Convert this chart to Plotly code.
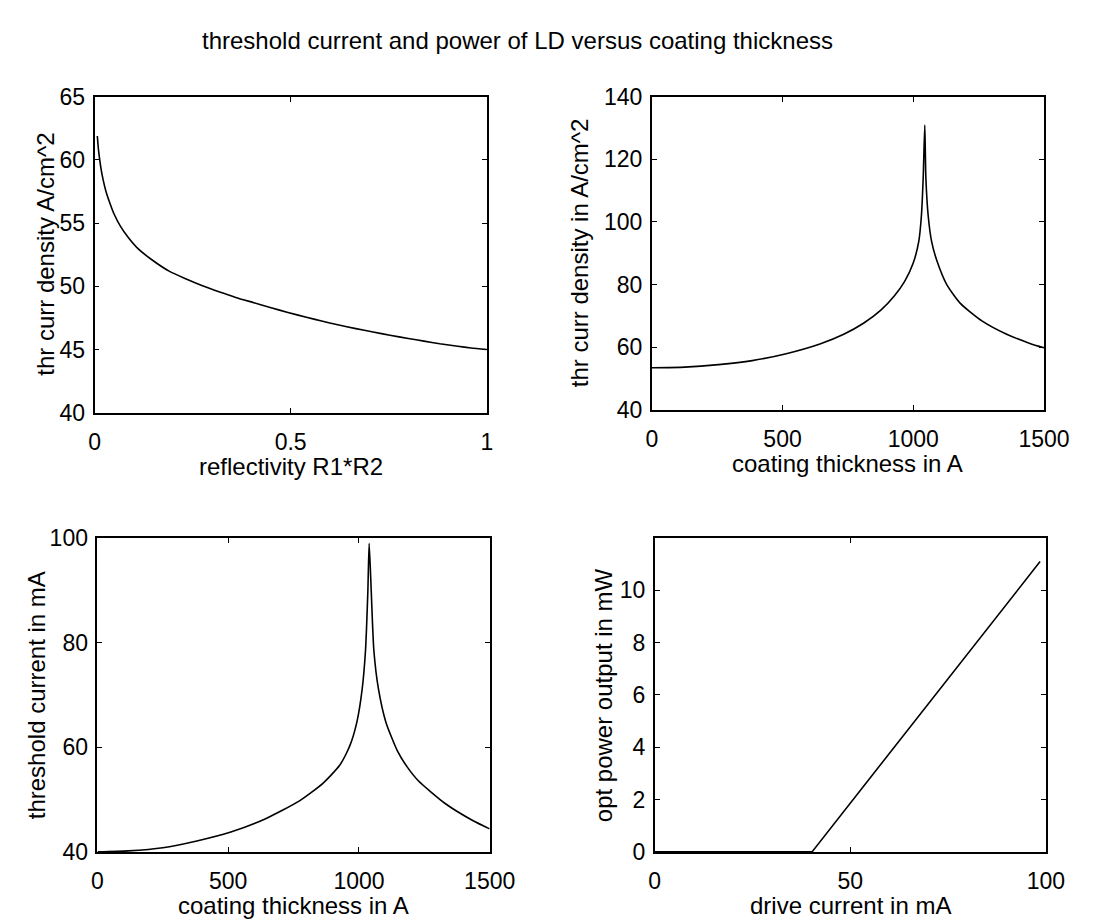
import plotly.graph_objects as go

# ---- data ----
# top-left: threshold current density vs reflectivity
refl_x = [0.007, 0.01, 0.015, 0.02, 0.03, 0.04, 0.05, 0.065, 0.085, 0.11, 0.146,
          0.19, 0.232, 0.275, 0.319, 0.36, 0.406, 0.45, 0.493, 0.54, 0.579,
          0.62, 0.666, 0.71, 0.753, 0.8, 0.84, 0.88, 0.926, 0.96, 1.0]
refl_y = [61.9, 60.8, 59.6, 58.7, 57.4, 56.5, 55.7, 54.8, 53.9, 53.0, 52.1,
          51.2, 50.6, 50.05, 49.55, 49.12, 48.7, 48.3, 47.93, 47.55, 47.25,
          46.95, 46.65, 46.38, 46.13, 45.87, 45.66, 45.45, 45.25, 45.12, 45.0]

# top-right: threshold current density vs coating thickness
ct_x = [0, 126, 255, 384, 514, 643, 734, 811, 876, 928, 967, 999, 1021, 1031,
        1038, 1044, 1048, 1057, 1070, 1090, 1128, 1180, 1264, 1355, 1446, 1500]
ct_y = [53.4, 53.6, 54.4, 55.7, 57.9, 61.0, 64.1, 67.7, 71.8, 76.4, 81.0, 86.7,
        93.8, 102.0, 114.4, 131.0, 114.4, 102.0, 93.8, 87.7, 80.0, 74.0, 68.3,
        64.2, 61.2, 59.8]

# bottom-left: threshold current vs coating thickness
tc_x = [0, 117, 250, 380, 510, 641, 771, 862, 927, 966, 992, 1012, 1025, 1034,
        1039, 1047, 1057, 1075, 1103, 1148, 1185, 1227, 1331, 1435, 1500]
tc_y = [40.0, 40.2, 40.8, 42.1, 43.8, 46.3, 49.7, 53.1, 56.6, 60.4, 64.8, 71.0,
        78.5, 89.8, 99.0, 89.8, 78.5, 71.0, 64.8, 59.2, 56.2, 53.6, 49.2, 46.0,
        44.4]

# bottom-right: optical power vs drive current
drive_x = [0, 40.2, 98.5]
power_y = [0, 0, 11.1]

title_text = "threshold current and power of LD versus coating thickness"
xlabels = ["reflectivity R1*R2", "coating thickness in A",
           "coating thickness in A", "drive current in mA"]
ylabels = ["thr curr density A/cm^2", "thr curr density in A/cm^2",
           "threshold current in mA", "opt power output in mW"]

W, H = 1096, 922
FONT = "Liberation Sans, Arial, Helvetica, sans-serif"

# pixel boxes (left, right, top, bottom)
boxes = [(83, 487, 78, 403), (657, 1061, 78, 400),
         (86, 490, 532, 855), (660, 1063, 532, 855)]
ylabel_x = [33, 582, 24, 608]

fig = go.Figure()
series = [(refl_x, refl_y), (ct_x, ct_y), (tc_x, tc_y), (drive_x, power_y)]
ranges = [([0, 1], [40, 65]), ([0, 1500], [40, 140]),
          ([0, 1500], [40, 100]), ([0, 100], [0, 12])]
xticks = [[0, 0.5, 1], [0, 500, 1000, 1500], [0, 500, 1000, 1500], [0, 50, 100]]
yticks = [[40, 45, 50, 55, 60, 65], [40, 60, 80, 100, 120, 140],
          [40, 60, 80, 100], [0, 2, 4, 6, 8, 10]]

layout = dict(
    width=W, height=H, margin=dict(l=0, r=0, t=0, b=0),
    paper_bgcolor="white", plot_bgcolor="white", showlegend=False,
    font=dict(family=FONT, size=23, color="black"),
)
annotations = [dict(text=title_text, x=519 / W, y=1 - 20 / H, xref="paper",
                    yref="paper", showarrow=False, xanchor="center",
                    yanchor="middle", font=dict(size=24, family=FONT))]

for i, ((xs, ys), (xr, yr), (l, r, t, b)) in enumerate(zip(series, ranges, boxes)):
    n = "" if i == 0 else str(i + 1)
    fig.add_trace(go.Scatter(x=xs, y=ys, mode="lines",
                             line=dict(color="black", width=1.6,
                                       shape="spline" if i < 3 else "linear",
                                       smoothing=0.6),
                             xaxis="x" + n, yaxis="y" + n, hoverinfo="skip"))
    axcommon = dict(showline=True, linecolor="black", linewidth=1.8,
                    mirror="ticks", ticks="inside", ticklen=5, tickwidth=1.2,
                    tickcolor="black", showgrid=False, zeroline=False,
                    tickfont=dict(family=FONT, size=23, color="black"))
    layout["xaxis" + n] = dict(axcommon, domain=[l / W, r / W], range=xr,
                               tickvals=xticks[i], anchor="y" + n,
                               ticklabelstandoff=8)
    layout["yaxis" + n] = dict(axcommon, domain=[1 - b / H, 1 - t / H], range=yr,
                               tickvals=yticks[i], anchor="x" + n,
                               ticklabelstandoff=3)
    # axis titles
    annotations.append(dict(text=xlabels[i], x=(l + r) / 2 / W,
                            y=1 - (b + 55) / H, xref="paper", yref="paper",
                            showarrow=False, xanchor="center", yanchor="middle",
                            font=dict(size=24, family=FONT)))
    annotations.append(dict(text=ylabels[i], x=ylabel_x[i] / W,
                            y=1 - (t + b) / 2 / H, xref="paper", yref="paper",
                            showarrow=False, xanchor="center", yanchor="middle",
                            textangle=-90, font=dict(size=24, family=FONT)))

layout["annotations"] = annotations
fig.update_layout(**layout)
fig.write_html("out.html")
